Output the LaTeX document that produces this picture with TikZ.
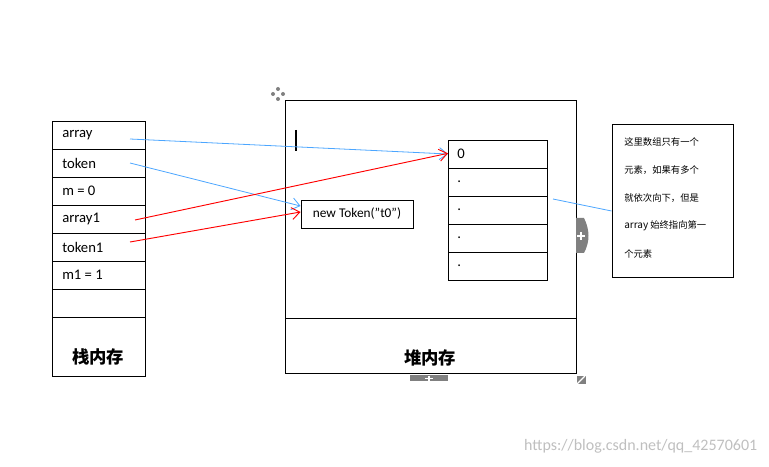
\documentclass[tikz,border=0pt]{standalone}
\usepackage{fontspec}
\setmainfont{Carlito}
\newfontfamily\cjk{Noto Sans CJK SC}
\usetikzlibrary{arrows.meta}
\begin{document}
\begin{tikzpicture}[x=0.75pt,y=-0.75pt,
  cell/.style={font=\fontsize{11}{13}\selectfont,anchor=west,inner sep=0},
  bl/.style={draw=blue!50!cyan!70!white,line width=0.6pt,-{Straight Barb[length=6pt,width=9pt]}},
  rd/.style={draw=red,line width=0.7pt,-{Straight Barb[length=6pt,width=9pt]}},
  ui/.style={fill=black!50,draw=none}]
\useasboundingbox (0,0) rectangle (769,467);
% stack
\draw[line width=0.7pt] (52,121) rectangle (145,376);
\foreach \y in {149,177,205,233,261,289,317} \draw[line width=0.7pt] (52,\y) -- (145,\y);
\node[cell] (sa) at (62,135) {array};
\node[cell] (st) at (62,163) {token};
\node[cell] (sm) at (62,191) {m = 0};
\node[cell] (sa1) at (62,219) {array1};
\node[cell] (st1) at (62,247) {token1};
\node[cell] (sm1) at (62,275) {m1 = 1};
\node[font=\cjk\bfseries\fontsize{13}{15}\selectfont] (stk) at (98,357) {栈内存};
% heap
\draw[line width=0.7pt] (285,100) rectangle (576,373);
\draw[line width=0.7pt] (285,318) -- (576,318);
\node[font=\cjk\bfseries\fontsize{13}{15}\selectfont] (heap) at (430,358) {堆内存};
\draw[line width=1.2pt] (296,130) -- (296,151);
% array
\draw[line width=0.7pt] (448,140) rectangle (547,280);
\foreach \y in {168,196,224,252} \draw[line width=0.7pt] (448,\y) -- (547,\y);
\coordinate (a0) at (448,154);
\node[cell] at (457,154) {0};
\foreach \y in {182,210,238,266} \node[cell] at (457,\y) {.};
% token box
\node[draw,line width=0.7pt,minimum width=112pt*0.75,minimum height=28pt*0.75,inner sep=0,font=\fontsize{10}{12}\selectfont] (tok) at (357,214) {new Token("t0")};
% note
\node[draw,line width=0.7pt,minimum width=121pt*0.75,minimum height=153pt*0.75,inner sep=0] (note) at (672.5,200.5) {};
\foreach \t/\y in {这里数组只有一个/142,元素，如果有多个/170,就依次向下，但是/198,{{\fontsize{7.5}{9}\selectfont array} 始终指向第一}/226,个元素/254}
  \node[anchor=west,inner sep=0,font=\cjk\fontsize{7}{9}\selectfont] at (624,\y) {\t};
% arrows
\draw[bl] (130,139) -- (a0);
\draw[bl] (130,163) -- (tok.west|-0,206);
\draw[rd] (135,220) -- ([yshift=0.5pt]a0);
\draw[rd] (130,242) -- (tok.west|-0,212);
\draw[draw=blue!50!cyan!70!white,line width=0.6pt] (note.west|-0,211) -- (553,199);
% UI artifacts
\fill[ui] (576,218) -- (584,218) .. controls (590,230) and (590,242) .. (584,253) -- (576,253) -- cycle;
\draw[white,line width=1pt] (577,236) -- (585,236) (581,232) -- (581,240);
\fill[ui] (410,375) -- (448,375) .. controls (440,383) and (418,383) .. (410,375) -- cycle;
\fill[ui] (410,375) rectangle (448,381);
\draw[white,line width=1pt] (425,378.5) -- (433,378.5) (429,375.5) -- (429,381.5);
\fill[ui] (577,376) -- (586,376) -- (586,384) -- (577,384) -- cycle;
\draw[white,line width=1pt] (577,384) -- (585,376);
\foreach \dx/\dy in {0/-5,0/5,-5/0,5/0} \fill[ui] (278+\dx,94+\dy) circle (2);
% watermark
\node[anchor=east,text=black!25,font=\fontsize{12}{14}\selectfont] (wm) at (762,446) {https://blog.csdn.net/qq\_42570601};
\end{tikzpicture}
\end{document}
